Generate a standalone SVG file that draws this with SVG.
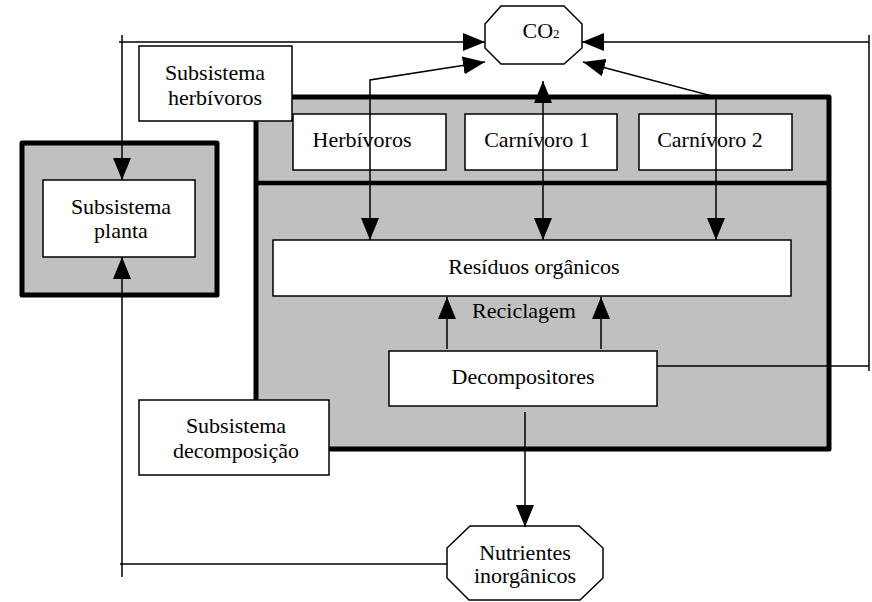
<svg xmlns="http://www.w3.org/2000/svg" width="872" height="602" viewBox="0 0 872 602">
<style>
text{font-family:"Liberation Serif","Times New Roman",serif;font-size:22px;fill:#000;text-anchor:middle}
.box{fill:#fff;stroke:#000;stroke-width:1.5}
.sys{fill:#c0c0c0;stroke:#000;stroke-width:5;stroke-linejoin:round}
.ln{fill:none;stroke:#000;stroke-width:1.5}
</style>
<defs>
<marker id="ah" markerUnits="userSpaceOnUse" markerWidth="22" markerHeight="18" refX="22" refY="9" orient="auto" viewBox="0 0 22 18">
<path d="M0,0 L22,9 L0,18 z" fill="#000"/>
</marker>
<marker id="ahs" markerUnits="userSpaceOnUse" markerWidth="22" markerHeight="18" refX="22" refY="9" orient="auto-start-reverse" viewBox="0 0 22 18">
<path d="M0,0 L22,9 L0,18 z" fill="#000"/>
</marker>
</defs>

<g id="planta">
<rect class="sys" x="22" y="143" width="195" height="152"/>
<rect class="box" x="43" y="180" width="152" height="77"/>
<text x="121" y="214">Subsistema</text>
<text x="121" y="238">planta</text>
</g>

<g id="sistema-principal">
<rect class="sys" x="256" y="97" width="573" height="352"/>
<line x1="256" y1="183" x2="829" y2="183" stroke="#000" stroke-width="4.5"/>
</g>

<g id="herbivoros">
<rect class="box" x="293" y="114" width="153" height="56"/>
<text x="362" y="147">Herbívoros</text>
</g>
<g id="carnivoro1">
<rect class="box" x="465" y="114" width="152" height="56"/>
<text x="537" y="147">Carnívoro 1</text>
</g>
<g id="carnivoro2">
<rect class="box" x="639" y="114" width="153" height="56"/>
<text x="710" y="147">Carnívoro 2</text>
</g>

<g id="residuos">
<rect class="box" x="273" y="240" width="518" height="56"/>
<text x="534" y="274">Resíduos orgânicos</text>
</g>

<g id="reciclagem">
<text x="524" y="318">Reciclagem</text>
</g>

<g id="decompositores">
<rect class="box" x="389" y="351" width="268" height="55"/>
<text x="523" y="384">Decompositores</text>
</g>

<g id="subsistema-herbivoros">
<rect class="box" x="139" y="46" width="153" height="75"/>
<text x="215" y="80">Subsistema</text>
<text x="215" y="105">herbívoros</text>
</g>

<g id="subsistema-decomposicao">
<rect class="box" x="139" y="400" width="190" height="75"/>
<text x="236" y="433">Subsistema</text>
<text x="236" y="458">decomposição</text>
</g>

<g id="co2">
<polygon class="box" points="501,6 564,6 582,24 582,48 564,64 501,64 485,48 485,24"/>
<text x="541" y="38" font-size="20">CO<tspan font-size="13">2</tspan></text>
</g>

<g id="nutrientes">
<polygon class="box" points="470,526 579,526 603,548 603,578 580,600 469,600 447,578 447,548"/>
<text x="525" y="560">Nutrientes</text>
<text x="525" y="583">inorgânicos</text>
</g>

<g id="connectors">
<line class="ln" x1="122" y1="35" x2="122" y2="180" marker-end="url(#ah)"/>
<line class="ln" x1="119" y1="42" x2="485" y2="42" marker-end="url(#ah)"/>
<line class="ln" x1="869" y1="35" x2="869" y2="371"/>
<line class="ln" x1="869" y1="42" x2="582" y2="42" marker-end="url(#ah)"/>
<line class="ln" x1="657" y1="366" x2="869" y2="366"/>
<polyline class="ln" points="370,240 370,80 485,62" marker-start="url(#ahs)" marker-end="url(#ah)"/>
<line class="ln" x1="543" y1="240" x2="543" y2="81" marker-start="url(#ahs)" marker-end="url(#ah)"/>
<polyline class="ln" points="716,240 716,97 583,62" marker-start="url(#ahs)" marker-end="url(#ah)"/>
<line class="ln" x1="447" y1="349" x2="447" y2="297" marker-end="url(#ah)"/>
<line class="ln" x1="601" y1="349" x2="601" y2="297" marker-end="url(#ah)"/>
<line class="ln" x1="525" y1="412" x2="525" y2="527" marker-end="url(#ah)"/>
<line class="ln" x1="120" y1="564" x2="447" y2="564"/>
<line class="ln" x1="122" y1="577" x2="122" y2="257" marker-end="url(#ah)"/>
</g>
</svg>
